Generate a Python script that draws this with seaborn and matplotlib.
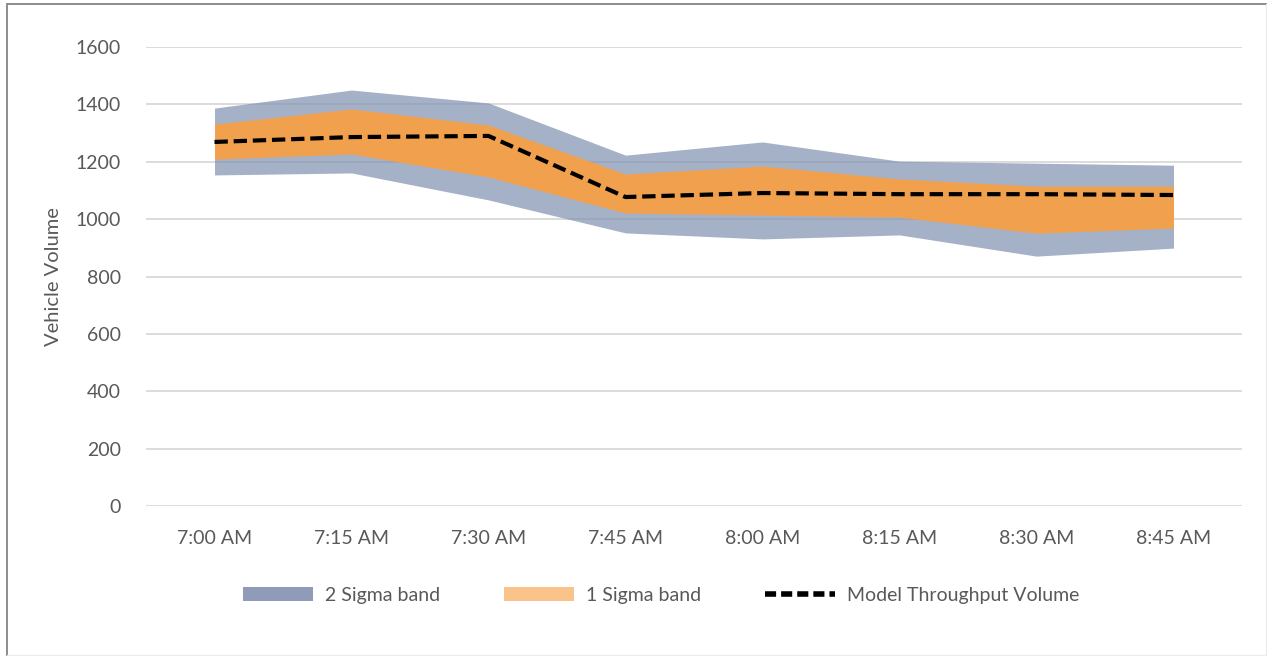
import matplotlib
matplotlib.use("Agg")
import matplotlib.pyplot as plt
from matplotlib.patches import Patch
from matplotlib.lines import Line2D
import numpy as np
import pandas as pd
import seaborn as sns

# Time slots and volume statistics
times = ["7:00 AM", "7:15 AM", "7:30 AM", "7:45 AM", "8:00 AM", "8:15 AM", "8:30 AM", "8:45 AM"]
model_volume = [1269, 1286, 1290, 1077, 1091, 1087, 1087, 1084]
one_sigma_low = [1209, 1227, 1147, 1021, 1014, 1007, 951, 969]
one_sigma_high = [1331, 1384, 1328, 1157, 1185, 1140, 1115, 1115]
two_sigma_low = [1154, 1161, 1067, 952, 931, 945, 871, 899]
two_sigma_high = [1387, 1450, 1405, 1223, 1269, 1202, 1195, 1188]
y_ticks = [0, 200, 400, 600, 800, 1000, 1200, 1400, 1600]

df = pd.DataFrame({
    "time": times,
    "pos": np.arange(len(times)),
    "model": model_volume,
})

sns.set_theme(style="white")
plt.rcParams["font.family"] = ["Lato", "DejaVu Sans"]

W, H = 1267, 656
fig = plt.figure(figsize=(W / 100, H / 100), dpi=100)

# Outer frame of the chart area: darker left/top edges, faint right/bottom
x0, y1 = 6.5 / W, 1 - 3.5 / H
fig.add_artist(Line2D([x0, x0], [0, y1], transform=fig.transFigure,
                      color="#8c8c8c", linewidth=1.4))
fig.add_artist(Line2D([x0, 1], [y1, y1], transform=fig.transFigure,
                      color="#8c8c8c", linewidth=1.4))
fig.add_artist(Line2D([1 - 1.5 / W, 1 - 1.5 / W], [0, y1], transform=fig.transFigure,
                      color="#ececec", linewidth=1.0))
fig.add_artist(Line2D([x0, 1], [1.5 / H, 1.5 / H], transform=fig.transFigure,
                      color="#ececec", linewidth=1.0))

left, right = 146 / W, 1242 / W
bottom, top = 1 - 506 / H, 1 - 47 / H
ax = fig.add_axes([left, bottom, right - left, top - bottom])

grid_color = "#d9d9d9"
for yv in y_ticks:
    ax.axhline(yv, color=grid_color, linewidth=1.3, zorder=0)

ax.fill_between(df["pos"], two_sigma_low, two_sigma_high, color="#8293b2",
                alpha=0.72, linewidth=0, zorder=1)
ax.fill_between(df["pos"], one_sigma_low, one_sigma_high, color="#f6a046",
                alpha=0.95, linewidth=0, zorder=2)

sns.lineplot(data=df, x="pos", y="model", ax=ax, color="black", linewidth=3.0,
             zorder=3, legend=False)
line = ax.get_lines()[-1]
line.set_dashes((3.2, 1.4))

ax.set_xlim(-0.5, len(times) - 0.5)
ax.set_ylim(0, 1600)
ax.set_xticks(df["pos"])
ax.set_xticklabels(times)
ax.set_yticks(y_ticks)
ax.set_yticklabels([str(v) for v in y_ticks])
ax.tick_params(axis="both", length=0, labelsize=14, labelcolor="#595959")
ax.tick_params(axis="x", pad=17)
ax.tick_params(axis="y", pad=18)
for s in ax.spines.values():
    s.set_visible(False)
ax.set_xlabel("")
ax.set_ylabel("Vehicle Volume", fontsize=14.5, color="#595959", labelpad=10)

handles = [
    Patch(facecolor="#8f9bb8", edgecolor="none", label="2 Sigma band"),
    Patch(facecolor="#f9c38a", edgecolor="none", label="1 Sigma band"),
    Line2D([0], [0], color="black", linewidth=4, dashes=(2.0, 0.9),
           label="Model Throughput Volume"),
]
fig.legend(handles=handles, loc="center", bbox_to_anchor=(661 / W, 1 - 595 / H),
           ncol=3, frameon=False, fontsize=14, labelcolor="#595959",
           handlelength=3.6, handleheight=0.75, handletextpad=0.6,
           columnspacing=3.3)

fig.savefig("out.png", dpi=100, facecolor="white")
